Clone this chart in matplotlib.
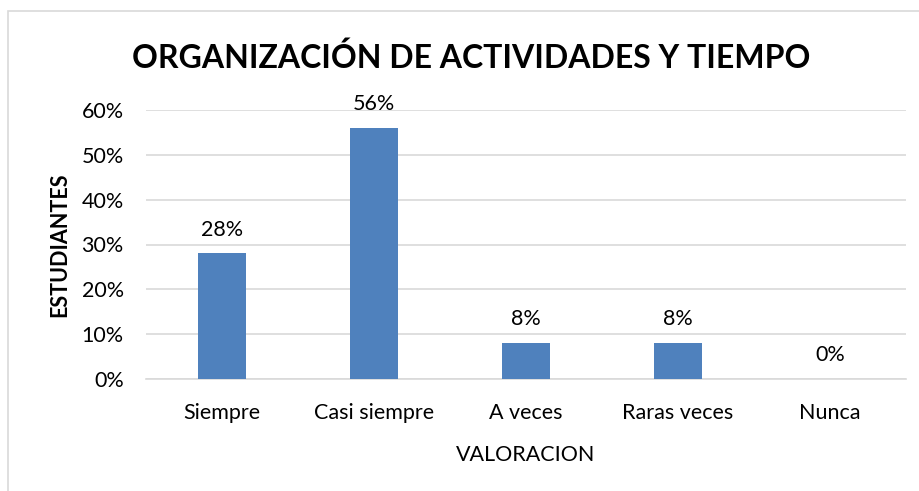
import matplotlib.pyplot as plt
from matplotlib.patches import Rectangle
from matplotlib.ticker import PercentFormatter

# data
categories = ["Siempre", "Casi siempre", "A veces", "Raras veces", "Nunca"]
values = [28, 56, 8, 8, 0]
y_ticks = [0, 10, 20, 30, 40, 50, 60]

BAR_COLOR = "#4F81BD"
GRID_COLOR = "#D9D9D9"
FS = 15.5

plt.rcParams["font.family"] = ["Lato", "DejaVu Sans"]

fig = plt.figure(figsize=(9.2, 4.91), dpi=100)
ax = fig.add_axes([146 / 920, 1 - 379 / 491, 760 / 920, 269 / 491])

x = range(len(categories))
bars = ax.bar(x, values, width=0.31, color=BAR_COLOR, zorder=3)

for xi, v in zip(x, values):
    ax.annotate(f"{v}%", (xi, v), xytext=(0, 10), textcoords="offset points",
                ha="center", va="bottom", fontsize=FS, color="#000000")

ax.set_xlim(-0.5, len(categories) - 0.5)
ax.set_ylim(0, 60)
ax.set_yticks(y_ticks)
ax.yaxis.set_major_formatter(PercentFormatter(decimals=0))
ax.set_xticks(list(x))
ax.set_xticklabels(categories)
ax.tick_params(axis="both", length=0, labelsize=FS, colors="#000000")
ax.tick_params(axis="x", pad=17)
ax.tick_params(axis="y", pad=16)

ax.grid(axis="y", color=GRID_COLOR, linewidth=1.2, zorder=0)
for side in ["top", "right", "left"]:
    ax.spines[side].set_visible(False)
ax.spines["bottom"].set_color(GRID_COLOR)
ax.spines["bottom"].set_linewidth(1.2)

ax.set_xlabel("VALORACION", fontsize=FS)
ax.xaxis.set_label_coords(0.5, -0.245)
ax.set_ylabel("ESTUDIANTES", fontsize=FS, fontweight="bold")
ax.yaxis.set_label_coords(-0.1, 0.5)

fig.text(471 / 920, 1 - 58 / 491, "ORGANIZACIÓN DE ACTIVIDADES Y TIEMPO",
         ha="center", va="center", fontsize=23, fontweight="bold")

# chart border (only top and left visible in the crop)
fig.add_artist(Rectangle((8 / 920, -0.1), 1.2, 1 - 11 / 491 + 0.1,
                         transform=fig.transFigure, fill=False,
                         edgecolor=GRID_COLOR, linewidth=1.2))

fig.savefig("out.png", dpi=100)
